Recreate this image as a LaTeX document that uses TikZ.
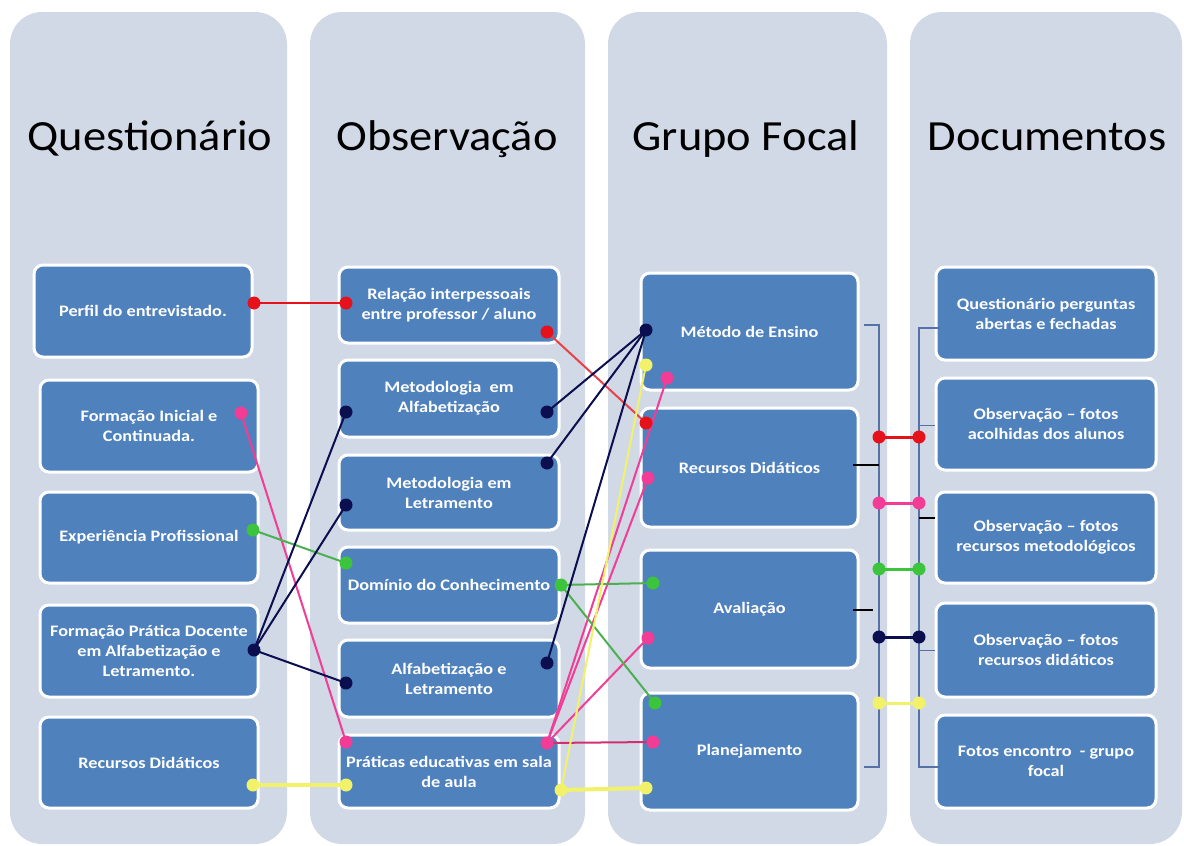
\documentclass[tikz,border=0pt]{standalone}
\usepackage{fontspec}
\setmainfont{Carlito}
\newfontfamily\titlefont[FakeStretch=1.08]{Carlito}
\newfontfamily\boxfont[FakeStretch=1.14]{Carlito}
\definecolor{colbg}{HTML}{D1D9E6}
\definecolor{boxblue}{HTML}{4F81BD}
\definecolor{cred}{HTML}{E5121C}
\definecolor{cpink}{HTML}{F23C96}
\definecolor{cpinkdk}{HTML}{D0306E}
\definecolor{cgreen}{HTML}{3CC43C}
\definecolor{cgreenln}{HTML}{4DB050}
\definecolor{cnavy}{HTML}{0B0E4F}
\definecolor{cyellow}{HTML}{F2F26A}
\definecolor{bracket}{HTML}{5571A8}
\pgfdeclarelayer{cols}
\pgfdeclarelayer{boxes}
\pgfdeclarelayer{lines}
\pgfsetlayers{cols,boxes,lines,main}
\tikzset{
  colbox/.style={fill=colbg, rounded corners=32pt, inner sep=0pt, minimum width=277pt, minimum height=832pt},
  ttl/.style={font=\titlefont\fontsize{43}{50}\selectfont, text=black, anchor=base},
  box/.style={draw=white, line width=3pt, fill=boxblue, rounded corners=9pt, text=white,
    font=\boxfont\bfseries\fontsize{16}{20}\selectfont, align=center, inner sep=0pt},
  dot/.style={circle, inner sep=0pt, minimum size=13pt},
  conn/.style={line width=2pt},
  pair/.style={line width=3pt},
  tick/.style={line width=2pt, black},
  thintick/.style={line width=1pt, bracket}
}
\begin{document}
\begin{tikzpicture}[x=1pt,y=-1pt]
\useasboundingbox (0,0) rectangle (1184,846);
\begin{pgfonlayer}{cols}
\node[colbox] (c1) at (148.5,428) {};
\node[colbox, minimum width=275pt] (c2) at (447.5,428) {};
\node[colbox, minimum width=279pt] (c3) at (747.5,428) {};
\node[colbox, minimum width=272pt] (c4) at (1046,428) {};
\end{pgfonlayer}
\node[ttl] (t1) at (150,150) {Questionário};
\node[ttl] (t2) at (447,150) {Observação};
\node[ttl] (t3) at (746,150) {Grupo Focal};
\node[ttl] (t4) at (1047,150) {Documentos};
\begin{pgfonlayer}{boxes}
% Questionario
\node[box, minimum width=218pt, minimum height=92pt] (q1) at (143,311) {Perfil do entrevistado.};
\node[box, minimum width=218pt, minimum height=92pt] (q2) at (149,426) {Formação Inicial e\\Continuada.};
\node[box, minimum width=218pt, minimum height=91pt] (q3) at (149,537.5) {Experiência Profissional};
\node[box, minimum width=218pt, minimum height=92pt] (q4) at (149,651) {Formação Prática Docente\\em Alfabetização e\\Letramento.};
\node[box, minimum width=218pt, minimum height=91pt] (q5) at (149,762.5) {Recursos Didáticos};
% Observacao
\node[box, minimum width=220pt, minimum height=76pt] (o1) at (449,305) {Relação interpessoais\\entre professor / aluno};
\node[box, minimum width=220pt, minimum height=77pt] (o2) at (449,398.5) {Metodologia \ em\\Alfabetização};
\node[box, minimum width=220pt, minimum height=75pt] (o3) at (449,492.5) {Metodologia em\\Letramento};
\node[box, minimum width=220pt, minimum height=76pt] (o4) at (449,585) {Domínio do Conhecimento};
\node[box, minimum width=220pt, minimum height=77pt] (o5) at (449,678.5) {Alfabetização e\\Letramento};
\node[box, minimum width=220pt, minimum height=73pt] (o6) at (449,771.5) {Práticas educativas em sala\\de aula};
% Grupo focal
\node[box, minimum width=217pt, minimum height=117pt] (g1) at (749.5,331.5) {Método de Ensino};
\node[box, minimum width=217pt, minimum height=119pt] (g2) at (749.5,467.5) {Recursos Didáticos};
\node[box, minimum width=217pt, minimum height=118pt] (g3) at (749.5,609) {Avaliação};
\node[box, minimum width=217pt, minimum height=117pt] (g4) at (749.5,751.5) {Planejamento};
% Documentos
\node[box, minimum width=220pt, minimum height=93pt] (d1) at (1046,313.5) {Questionário perguntas\\abertas e fechadas};
\node[box, minimum width=220pt, minimum height=92pt] (d2) at (1046,424) {Observação – fotos\\acolhidas dos alunos};
\node[box, minimum width=220pt, minimum height=91pt] (d3) at (1046,537.5) {Observação – fotos\\recursos metodológicos};
\node[box, minimum width=220pt, minimum height=94pt] (d4) at (1046,650) {Observação – fotos\\recursos didáticos};
\node[box, minimum width=220pt, minimum height=93pt] (d5) at (1046,761.5) {Fotos encontro \ - grupo\\focal};
\end{pgfonlayer}
% dots
\node[dot,fill=cred] (rq1) at (254,303) {};
\node[dot,fill=cred] (ro1a) at (346,303) {};
\node[dot,fill=cred] (ro1b) at (547,332) {};
\node[dot,fill=cred] (rg2) at (646,423) {};
\node[dot,fill=cred] (rl) at (879,437) {};
\node[dot,fill=cred] (rr) at (919,437) {};
\node[dot,fill=cpink] (pq2) at (241,413) {};
\node[dot,fill=cpink] (po6a) at (346,742) {};
\node[dot,fill=cpink] (po6b) at (547,743) {};
\node[dot,fill=cpink] (pg1) at (667,378) {};
\node[dot,fill=cpink] (pg2) at (648,478) {};
\node[dot,fill=cpink] (pg3) at (648,638) {};
\node[dot,fill=cpink] (pg4) at (653,742) {};
\node[dot,fill=cpink] (pl) at (879,503) {};
\node[dot,fill=cpink] (pr) at (919,503) {};
\node[dot,fill=cgreen] (gq3) at (253,530) {};
\node[dot,fill=cgreen] (go4a) at (346,563) {};
\node[dot,fill=cgreen] (go4b) at (561,585) {};
\node[dot,fill=cgreen] (gg3) at (653,583) {};
\node[dot,fill=cgreen] (gg4) at (655,703) {};
\node[dot,fill=cgreen] (gl) at (879,569) {};
\node[dot,fill=cgreen] (gr) at (919,569) {};
\node[dot,fill=cnavy] (nq4) at (254,650) {};
\node[dot,fill=cnavy] (no2a) at (346,412) {};
\node[dot,fill=cnavy] (no3a) at (346,505) {};
\node[dot,fill=cnavy] (no5a) at (346,683) {};
\node[dot,fill=cnavy] (no2b) at (547,412) {};
\node[dot,fill=cnavy] (no3b) at (547,463) {};
\node[dot,fill=cnavy] (no5b) at (547,663) {};
\node[dot,fill=cnavy] (ng1) at (646,330) {};
\node[dot,fill=cnavy] (nl) at (879,637) {};
\node[dot,fill=cnavy] (nr) at (919,637) {};
\node[dot,fill=cyellow] (yq5) at (253,785) {};
\node[dot,fill=cyellow] (yo6a) at (346,785) {};
\node[dot,fill=cyellow] (yo6b) at (561,790) {};
\node[dot,fill=cyellow] (yg1) at (646,365) {};
\node[dot,fill=cyellow] (yg4) at (646,788) {};
\node[dot,fill=cyellow] (yl) at (879,703) {};
\node[dot,fill=cyellow] (yr) at (919,703) {};
\begin{pgfonlayer}{lines}
% brackets
\draw[bracket, line width=1.5pt] (864,325) -- (879,325) -- (879,767) -- (864,767);
\draw[bracket, line width=1.5pt] (940,328) -- (919,328) -- (919,767) -- (940,767);
\draw[tick] (853,465) -- (879,465);
\draw[tick] (853,610) -- (873,610);
\draw[tick] (919,518) -- (935,518);
\draw[thintick] (919,425) -- (935,425);
\draw[thintick] (919,650) -- (935,650);
% red
\draw[conn, cred, line width=2.5pt] (rq1.center) -- (ro1a.center);
\draw[conn, cred!80!white] (ro1b.center) -- (rg2.center);
\draw[pair, cred] (rl.center) -- (rr.center);
% pink
\draw[conn, cpink] (pq2.center) -- (po6a.center);
\draw[conn, cpink] (po6b.center) -- (pg1.center);
\draw[conn, cpink] (po6b.center) -- (pg2.center);
\draw[conn, cpink] (po6b.center) -- (pg3.center);
\draw[conn, cpinkdk] (po6b.center) -- (pg4.center);
\draw[pair, cpink] (pl.center) -- (pr.center);
% green
\draw[conn, cgreenln] (gq3.center) -- (go4a.center);
\draw[conn, cgreenln] (go4b.center) -- (gg3.center);
\draw[conn, cgreenln] (go4b.center) -- (gg4.center);
\draw[pair, cgreen] (gl.center) -- (gr.center);
% navy
\draw[conn, cnavy] (nq4.center) -- (no2a.center);
\draw[conn, cnavy] (nq4.center) -- (no3a.center);
\draw[conn, cnavy] (nq4.center) -- (no5a.center);
\draw[conn, cnavy] (ng1.center) -- (no2b.center);
\draw[conn, cnavy] (ng1.center) -- (no3b.center);
\draw[conn, cnavy] (ng1.center) -- (no5b.center);
\draw[pair, cnavy] (nl.center) -- (nr.center);
% yellow
\draw[cyellow, line width=4pt] (yq5.center) -- (yo6a.center);
\draw[conn, cyellow] (yo6b.center) -- (yg1.center);
\draw[cyellow, line width=4pt] (yo6b.center) -- (yg4.center);
\draw[pair, cyellow] (yl.center) -- (yr.center);
\end{pgfonlayer}
\end{tikzpicture}
\end{document}
